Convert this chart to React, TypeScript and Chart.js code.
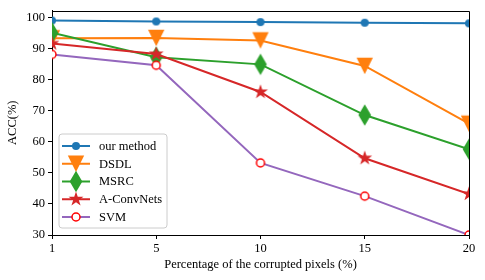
import React, { useEffect, useRef } from "react";
import { Chart, registerables } from "chart.js";

Chart.register(...registerables);

const categories = ["1", "5", "10", "15", "20"];
const ourMethod = [99.0, 98.7, 98.5, 98.3, 98.1];
const dsdl = [93.3, 93.4, 92.6, 84.4, 65.8];
const msrc = [95.1, 87.2, 84.9, 68.6, 57.6];
const aConvNets = [91.6, 88.2, 76.0, 54.7, 43.2];
const svm = [88.1, 84.6, 53.2, 42.5, 30.0];
const yTicks = [30, 40, 50, 60, 70, 80, 90, 100];

const FONT = "'Liberation Serif', 'Times New Roman', serif";
const FS = 12.5;

type Kind = "circle" | "tri" | "diamond" | "star" | "open";

function drawMarker(ctx: CanvasRenderingContext2D, kind: Kind, cx: number, cy: number, color: string) {
  ctx.save();
  ctx.fillStyle = color;
  ctx.beginPath();
  if (kind === "circle") {
    ctx.arc(cx, cy, 4, 0, Math.PI * 2);
    ctx.fill();
  } else if (kind === "open") {
    ctx.arc(cx, cy, 4, 0, Math.PI * 2);
    ctx.fillStyle = "#ffffff";
    ctx.fill();
    ctx.lineWidth = 1.5;
    ctx.strokeStyle = "#ff0000";
    ctx.stroke();
  } else if (kind === "tri") {
    const s = 8.2;
    ctx.moveTo(cx - s, cy - s);
    ctx.lineTo(cx + s, cy - s);
    ctx.lineTo(cx, cy + s);
    ctx.closePath();
    ctx.fill();
  } else if (kind === "diamond") {
    const hw = 6.3, hh = 10.7;
    ctx.moveTo(cx, cy - hh);
    ctx.lineTo(cx + hw, cy);
    ctx.lineTo(cx, cy + hh);
    ctx.lineTo(cx - hw, cy);
    ctx.closePath();
    ctx.fill();
  } else if (kind === "star") {
    const r = 7.8, ri = r * 0.382;
    for (let i = 0; i < 10; i++) {
      const rad = i % 2 === 0 ? r : ri;
      const a = -Math.PI / 2 + (i * Math.PI) / 5;
      const x = cx + rad * Math.cos(a);
      const y = cy + rad * Math.sin(a);
      if (i === 0) ctx.moveTo(x, y);
      else ctx.lineTo(x, y);
    }
    ctx.closePath();
    ctx.fill();
  }
  ctx.restore();
}

function markerImage(kind: Kind, color: string): HTMLCanvasElement {
  const c = document.createElement("canvas");
  c.width = 30;
  c.height = 30;
  const ctx = c.getContext("2d")!;
  drawMarker(ctx, kind, 15, 15, color);
  return c;
}

const seriesDefs: { label: string; data: number[]; color: string; kind: Kind; markerColor: string }[] = [
  { label: "our method", data: ourMethod, color: "#1f77b4", kind: "circle", markerColor: "#1f77b4" },
  { label: "DSDL", data: dsdl, color: "#ff7f0e", kind: "tri", markerColor: "#ff7f0e" },
  { label: "MSRC", data: msrc, color: "#2ca02c", kind: "diamond", markerColor: "#2ca02c" },
  { label: "A-ConvNets", data: aConvNets, color: "#d62728", kind: "star", markerColor: "#d62728" },
  { label: "SVM", data: svm, color: "#9467bd", kind: "open", markerColor: "#ff0000" },
];

const framePlugin = {
  id: "frame",
  afterDatasetsDraw(chart: any) {
    const { ctx, chartArea } = chart;
    ctx.save();
    ctx.strokeStyle = "#000";
    ctx.lineWidth = 1;
    ctx.beginPath();
    ctx.moveTo(Math.round(chartArea.left) + 0.5, Math.round(chartArea.top) + 0.5);
    ctx.lineTo(Math.round(chartArea.right) + 0.5, Math.round(chartArea.top) + 0.5);
    ctx.lineTo(Math.round(chartArea.right) + 0.5, Math.round(chartArea.bottom) + 0.5);
    ctx.stroke();
    ctx.restore();
  },
};

const legendPlugin = {
  id: "innerLegend",
  afterDatasetsDraw(chart: any) {
    const { ctx } = chart;
    const x0 = 59, y0 = 134, w = 108, h = 94, r = 3;
    ctx.save();
    ctx.beginPath();
    ctx.moveTo(x0 + r, y0);
    ctx.lineTo(x0 + w - r, y0);
    ctx.arcTo(x0 + w, y0, x0 + w, y0 + r, r);
    ctx.lineTo(x0 + w, y0 + h - r);
    ctx.arcTo(x0 + w, y0 + h, x0 + w - r, y0 + h, r);
    ctx.lineTo(x0 + r, y0 + h);
    ctx.arcTo(x0, y0 + h, x0, y0 + h - r, r);
    ctx.lineTo(x0, y0 + r);
    ctx.arcTo(x0, y0, x0 + r, y0, r);
    ctx.closePath();
    ctx.fillStyle = "rgba(255,255,255,0.8)";
    ctx.fill();
    ctx.strokeStyle = "#cccccc";
    ctx.lineWidth = 1;
    ctx.stroke();
    seriesDefs.forEach((s, i) => {
      const cy = 146 + i * 17.75;
      ctx.beginPath();
      ctx.strokeStyle = s.color;
      ctx.lineWidth = 2;
      ctx.moveTo(62, cy);
      ctx.lineTo(90, cy);
      ctx.stroke();
      drawMarker(ctx, s.kind, 76, cy, s.markerColor);
      ctx.fillStyle = "#000";
      ctx.font = `${FS}px ${FONT}`;
      ctx.textBaseline = "middle";
      ctx.textAlign = "left";
      ctx.fillText(s.label, 99, cy + 0.5);
    });
    ctx.restore();
  },
};

export default function App() {
  const ref = useRef<HTMLCanvasElement | null>(null);
  useEffect(() => {
    if (!ref.current) return;
    const datasets = seriesDefs.map((s, i) => ({
      label: s.label,
      data: s.data,
      borderColor: s.color,
      backgroundColor: s.color,
      borderWidth: 2,
      pointStyle: markerImage(s.kind, s.markerColor) as any,
      pointRadius: 8,
      pointHoverRadius: 8,
      tension: 0,
      clip: 0,
      order: seriesDefs.length - i,
    }));
    const tickFont = { family: FONT, size: FS };
    const chart = new Chart(ref.current, {
      type: "line",
      data: { labels: categories, datasets },
      options: {
        animation: false,
        responsive: false,
        events: [],
        layout: { padding: { left: 0, right: 16, top: 8, bottom: 0 } },
        plugins: { legend: { display: false }, tooltip: { enabled: false } },
        scales: {
          x: {
            type: "category",
            offset: false,
            grid: { display: true, drawOnChartArea: false, drawTicks: true, tickLength: 4, tickColor: "#000", offset: false },
            border: { display: true, color: "#000", width: 1 },
            ticks: { color: "#000", font: tickFont, padding: 2, maxRotation: 0, autoSkip: false },
            title: { display: true, text: "Percentage of the corrupted pixels (%)", color: "#000", font: tickFont, padding: { top: 0, bottom: 7.5 } },
            afterFit: (s: any) => { s.height = 45; },
          },
          y: {
            type: "linear",
            min: 30,
            max: 102.23,
            grid: { display: true, drawOnChartArea: false, drawTicks: true, tickLength: 4, tickColor: "#000" },
            border: { display: true, color: "#000", width: 1 },
            ticks: { color: "#000", font: tickFont, padding: 3 },
            afterBuildTicks: (s: any) => { s.ticks = yTicks.map((v) => ({ value: v })); },
            title: { display: true, text: "ACC(%)", color: "#000", font: tickFont, padding: { top: 5.5, bottom: 0 } },
            afterFit: (s: any) => { s.width = 52; },
          },
        },
      },
      plugins: [framePlugin, legendPlugin],
    });
    return () => chart.destroy();
  }, []);
  return (
    <div style={{ position: "absolute", left: 0, top: 0, width: 485, height: 280, background: "#fff" }}>
      <canvas ref={ref} width={485} height={280} style={{ display: "block" }} />
    </div>
  );
}
